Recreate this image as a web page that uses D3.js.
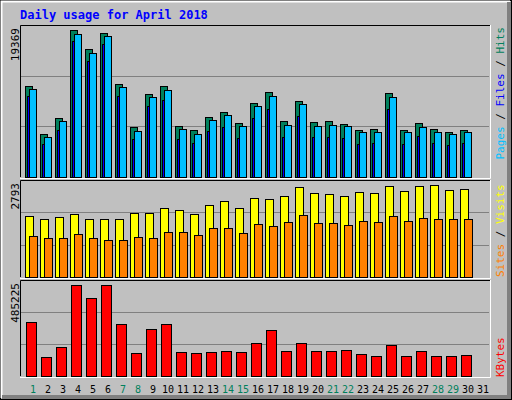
<!DOCTYPE html>
<html><head><meta charset="utf-8">
<script src="https://cdn.jsdelivr.net/npm/d3@7"></script>
<style>body{margin:0;background:#fff}</style>
</head><body>
<svg id="c" width="512" height="400"></svg>
<script>
// values
var days = d3.range(1, 32);
var weekend = [1, 7, 8, 14, 15, 21, 22, 28, 29];
var hits = [12007,5697,7800,19369,16871,18974,12270,6617,10955,12007,6748,6222,7931,8589,7143,9772,11262,7406,10079,7274,7406,7011,6222,6354,11087,6222,7143,6354,5960,6222];
var files = [11612,5302,7406,18843,16345,18580,11875,6091,10561,11481,6354,5697,7537,8194,6748,9378,10692,6880,9640,6748,6880,6748,5960,5960,10561,5960,6617,5960,5697,5960];
var pages = [10692,4294,6222,17922,15293,17528,10692,5039,9378,10166,5039,4513,6091,6617,5171,7800,8983,5302,8063,5302,5302,5171,4382,4513,8983,4382,5434,4513,4251,4513];
var visits = [1855,1765,1825,1916,1765,1765,1765,1946,1946,2097,2037,1916,2188,2309,2097,2400,2370,2460,2732,2551,2521,2460,2581,2551,2763,2611,2763,2793,2642,2672];
var sites = [1250,1190,1190,1311,1190,1129,1129,1220,1190,1371,1371,1281,1492,1492,1341,1613,1553,1674,1886,1644,1644,1583,1704,1674,1855,1704,1795,1765,1765,1765];
var kbytes = [288657,100941,155839,485225,416162,485225,278031,123963,251468,278031,129276,123963,129276,134588,129276,177090,246155,134588,177090,134588,134588,139901,118650,108025,166465,108025,134588,108025,108025,113338];

var svg = d3.select("#c");
var font = "'DejaVu Sans Mono', monospace";

svg.append("rect").attr("x",0.5).attr("y",0.5).attr("width",511).attr("height",399).attr("fill","#c0c0c0").attr("stroke","#000");
svg.append("path").attr("d","M1.5,398V1.5H510").attr("stroke","#fff").attr("stroke-width",2).attr("fill","none");
svg.append("path").attr("d","M509,2V397H2").attr("stroke","#808080").attr("stroke-width",4).attr("fill","none");

svg.append("text").attr("x",20).attr("y",19).attr("fill","#0000ff").attr("font-family",font)
  .attr("font-weight","bold").attr("font-size",12).text("Daily usage for April 2018");

var x0 = function(d){ return 25 + (d - 1) * 15; };

function panel(top, bottom, max, maxPx, label) {
  svg.append("rect").attr("x",20).attr("y",top).attr("width",470).attr("height",bottom-top).attr("fill","#c0c0c0");
  var y = d3.scaleLinear().domain([0, max]).range([bottom, bottom - maxPx]);
  [1/3, 2/3].forEach(function(f){
    var gy = Math.round(bottom - (bottom - top) * f) + 0.5;
    svg.append("line").attr("x1",21).attr("x2",489).attr("y1",gy).attr("y2",gy).attr("stroke","#808080");
  });
  svg.append("path").attr("d","M20.5,"+bottom+"V"+(top+0.5)+"H490").attr("stroke","#000").attr("fill","none");
  svg.append("path").attr("d","M490.5,"+top+"V"+(bottom+1.5)+"H20").attr("stroke","#fff").attr("fill","none");
  svg.append("text").attr("transform","translate(19,"+(top+3)+") rotate(-90)").attr("text-anchor","end")
    .attr("font-family",font).attr("font-size",11).text(label);
  return y;
}

function bars(y, data, off, w, color) {
  svg.append("g").selectAll("rect").data(data).enter().append("rect")
    .attr("x", function(d,i){ return x0(days[i]) + off + 0.5; })
    .attr("y", function(d){ return Math.round(y(d)) + 0.5; })
    .attr("width", w).attr("height", function(d){ return y.range()[0] - Math.round(y(d)); })
    .attr("fill", color).attr("stroke","#000");
}

var y1 = panel(25, 177, 19369, 147, "19369");
bars(y1, hits, 0, 7, "#00805c");
bars(y1, pages, 2, 7, "#0000ff");
bars(y1, files, 4, 7, "#00c0ff");

var y2 = panel(180, 277, 2793, 92, "2793");
bars(y2, visits, 0, 8, "#ffff00");
bars(y2, sites, 4, 8, "#ff8000");

var y3 = panel(280, 376, 485225, 91, "485225");
bars(y3, kbytes, 1, 10, "#ff0000");

function sideLabel(yPos, anchor, parts) {
  var t = svg.append("text").attr("transform","translate(504,"+yPos+") rotate(-90)")
    .attr("text-anchor",anchor).attr("font-family",font).attr("font-size",11);
  parts.forEach(function(p){ t.append("tspan").attr("fill",p[1]).text(p[0]); });
}
sideLabel(27, "end", [["Pages","#00c0ff"],[" / ","#000"],["Files","#0000ff"],[" / ","#000"],["Hits","#00805c"]]);
sideLabel(277, "start", [["Sites","#ff8000"],[" / ","#000"],["Visits","#ffff00"]]);
sideLabel(377, "start", [["KBytes","#ff0000"]]);

svg.append("g").selectAll("text").data(days).enter().append("text")
  .attr("x", function(d){ return x0(d) + 8; }).attr("y", 393).attr("text-anchor","middle")
  .attr("font-family",font).attr("font-size",10)
  .attr("fill", function(d){ return weekend.indexOf(d) >= 0 ? "#00805c" : "#000"; })
  .text(function(d){ return d; });
</script>
</body></html>
